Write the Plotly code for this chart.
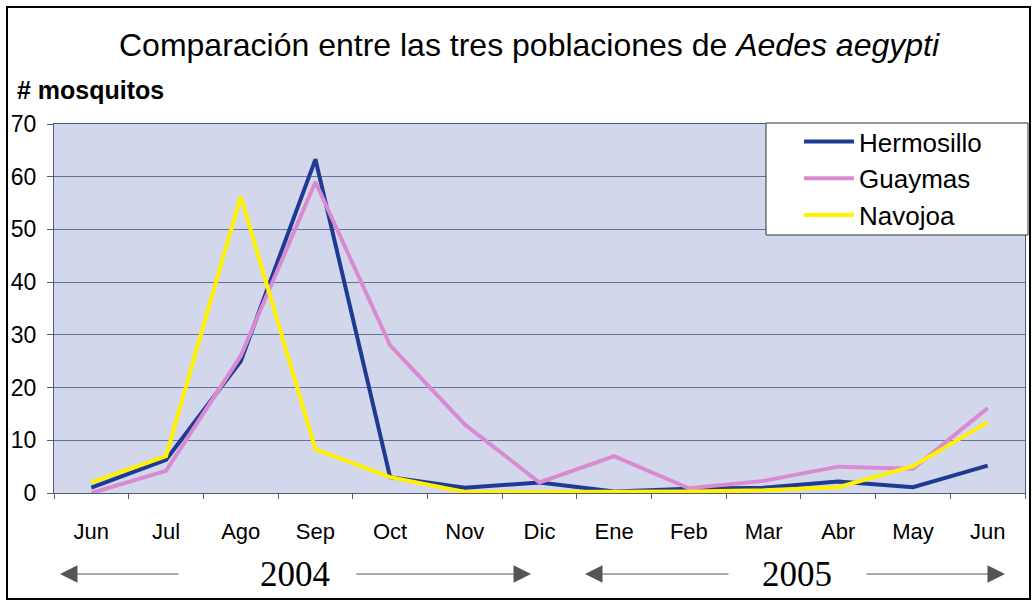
import plotly.graph_objects as go

months = ["Jun", "Jul", "Ago", "Sep", "Oct", "Nov", "Dic", "Ene", "Feb", "Mar", "Abr", "May", "Jun"]
hermosillo = [1.0, 6.3, 25.0, 63.3, 3.0, 1.0, 2.0, 0.3, 0.8, 1.0, 2.2, 1.1, 5.2]
guaymas = [0.0, 4.2, 26.0, 59.0, 28.0, 13.0, 2.0, 7.0, 0.9, 2.3, 5.0, 4.6, 16.1]
navojoa = [2.0, 7.0, 56.3, 8.3, 3.0, 0.2, 0.2, 0.2, 0.3, 0.5, 1.1, 5.1, 13.4]
years = ["2004", "2005"]
yticks = [0, 10, 20, 30, 40, 50, 60, 70]

xpos = list(range(len(months)))

W, H = 1033, 601
PL, PR, PT, PB = 54, 1025, 124, 493          # plot area in pixels
PW, PH = PR - PL, PB - PT


def pxx(p):
    return (p - PL) / PW


def pxy(p):
    return (PB - p) / PH


fig = go.Figure()
series = [("Hermosillo", hermosillo, "#1f3a93"),
          ("Guaymas", guaymas, "#d98bd2"),
          ("Navojoa", navojoa, "#fff200")]
for name, vals, col in series:
    fig.add_trace(go.Scatter(x=xpos, y=vals, mode="lines", name=name,
                             line=dict(color=col, width=4)))

axis_col = "#4d5a7a"
fig.update_layout(
    width=W, height=H,
    margin=dict(l=PL, r=W - PR, t=PT, b=H - PB),
    paper_bgcolor="white",
    plot_bgcolor="#d2d7ec",
    font=dict(family="Liberation Sans, Arial, sans-serif", color="black"),
    title=dict(text="Comparación entre las tres poblaciones de <i>Aedes aegypti</i>",
               x=pxx(529), xref="paper", xanchor="center", y=1 - 45 / H, yanchor="middle",
               font=dict(size=32, color="black")),
    showlegend=True,
    legend=dict(x=pxx(799), y=pxy(118), xanchor="left", yanchor="top",
                bgcolor="rgba(0,0,0,0)", borderwidth=0,
                font=dict(size=26, color="black"), itemwidth=50,
                tracegroupgap=0),
    xaxis=dict(range=[-0.5, len(months) - 0.5], tickmode="array", tickvals=xpos,
               ticktext=months, ticks="outside", ticklen=19,
               tickcolor="rgba(0,0,0,0)", tickfont=dict(size=22),
               showgrid=False, zeroline=False, showline=True, linecolor=axis_col,
               linewidth=1, mirror=True,
               minor=dict(tickvals=[i - 0.5 for i in range(len(months) + 1)],
                          ticks="outside", ticklen=5, tickcolor=axis_col, showgrid=False)),
    yaxis=dict(range=[0, 70], tickmode="array", tickvals=yticks, ticks="outside",
               ticklen=6, tickcolor=axis_col, tickfont=dict(size=23),
               ticklabelstandoff=6,
               showgrid=True, gridcolor="#62739a", gridwidth=1, zeroline=False,
               showline=True, linecolor=axis_col, linewidth=1, mirror=True),
)

# legend frame (white box, drawn above the lines, under the legend itself)
fig.add_shape(type="rect", xref="paper", yref="paper",
              x0=pxx(766), x1=pxx(1028), y0=pxy(235), y1=pxy(123),
              line=dict(color="#333333", width=1), fillcolor="white", layer="above")

# y-axis title (top-left)
fig.add_annotation(text="<b># mosquitos</b>", xref="paper", yref="paper",
                   x=pxx(15), y=pxy(90), xanchor="left", yanchor="middle",
                   showarrow=False, font=dict(size=25, color="black"))

# year labels and arrows
arrow_y = pxy(574)


def px_to_x(p):
    return (p - PL) / (PW / len(months)) - 0.5


year_specs = [
    (years[0], 295, (180, 60), (355, 531)),
    (years[1], 797, (730, 585), (865, 1005)),
]
for label, cx, left_arrow, right_arrow in year_specs:
    fig.add_annotation(text=label, x=px_to_x(cx), xref="x", y=arrow_y, yref="paper",
                       showarrow=False, xanchor="center", yanchor="middle",
                       font=dict(family="Liberation Serif, Times New Roman, serif", size=35,
                                 color="black"))
    for tail, head in (left_arrow, right_arrow):
        fig.add_annotation(x=px_to_x(head), y=arrow_y, xref="x", yref="paper",
                           ax=px_to_x(tail), ay=0, axref="x", ayref="pixel",
                           text="", showarrow=True, arrowhead=2, arrowsize=3.5,
                           arrowwidth=1, arrowcolor="#555555")

# outer frame
fig.add_shape(type="rect", xref="paper", yref="paper",
              x0=pxx(7), x1=pxx(1030), y0=pxy(599), y1=pxy(7),
              line=dict(color="black", width=2), fillcolor="rgba(0,0,0,0)", layer="below")

fig.write_html("out.html", config={"displayModeBar": False},
               post_script="document.body.style.margin='0';")
